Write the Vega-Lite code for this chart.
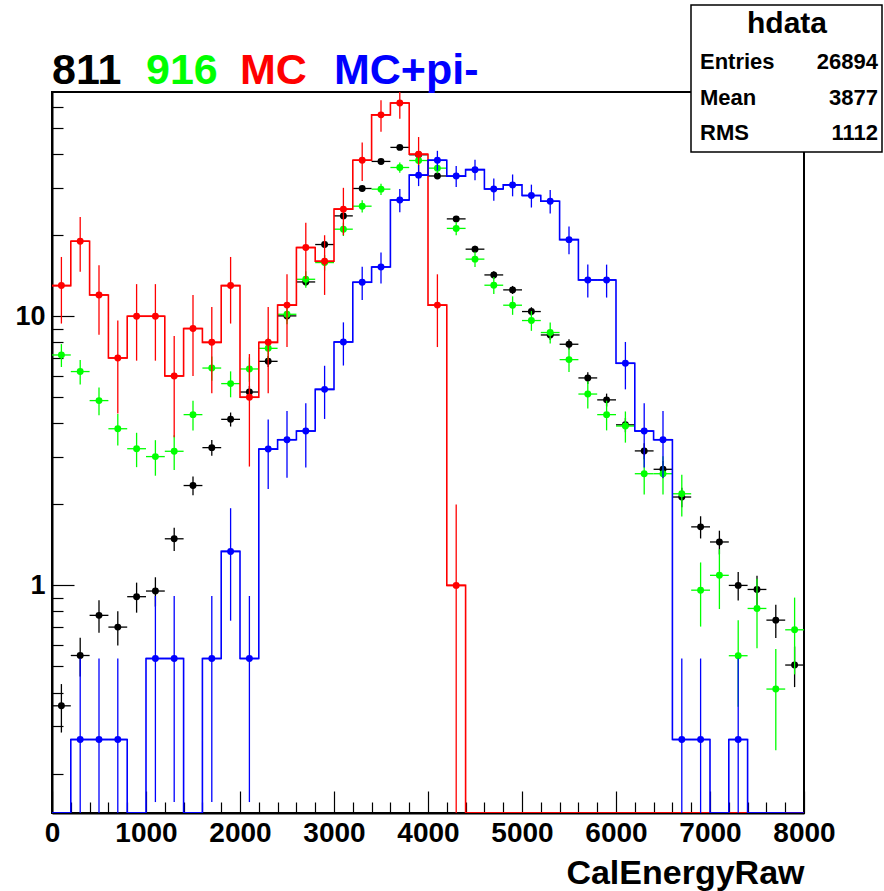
{
  "$schema": "https://vega.github.io/schema/vega-lite/v6.json",
  "width": 752,
  "height": 721,
  "autosize": {"type": "none"},
  "padding": {"left": 52, "top": 92, "right": 80, "bottom": 78},
  "background": "white",
  "config": {
    "font": "Liberation Sans",
    "view": {"stroke": "black", "strokeWidth": 2},
    "axis": {"grid": false}
  },
  "resolve": {"axis": {"x": "independent", "y": "independent"}},
  "datasets": {
    "hist": [
      {"s":"811","x0":0,"x1":200,"xc":100,"v":0.357,"lo":0.284,"hi":0.430},
      {"s":"811","x0":200,"x1":400,"xc":300,"v":0.549,"lo":0.459,"hi":0.639},
      {"s":"811","x0":400,"x1":600,"xc":500,"v":0.774,"lo":0.667,"hi":0.881},
      {"s":"811","x0":600,"x1":800,"xc":700,"v":0.700,"lo":0.598,"hi":0.802},
      {"s":"811","x0":800,"x1":1000,"xc":900,"v":0.908,"lo":0.792,"hi":1.024},
      {"s":"811","x0":1000,"x1":1200,"xc":1100,"v":0.953,"lo":0.834,"hi":1.072},
      {"s":"811","x0":1200,"x1":1400,"xc":1300,"v":1.49,"lo":1.341,"hi":1.639},
      {"s":"811","x0":1400,"x1":1600,"xc":1500,"v":2.35,"lo":2.163,"hi":2.537},
      {"s":"811","x0":1600,"x1":1800,"xc":1700,"v":3.25,"lo":3.030,"hi":3.470},
      {"s":"811","x0":1800,"x1":2000,"xc":1900,"v":4.14,"lo":3.892,"hi":4.388},
      {"s":"811","x0":2000,"x1":2200,"xc":2100,"v":5.23,"lo":4.951,"hi":5.509},
      {"s":"811","x0":2200,"x1":2400,"xc":2300,"v":6.80,"lo":6.482,"hi":7.118},
      {"s":"811","x0":2400,"x1":2600,"xc":2500,"v":10.03,"lo":9.644,"hi":10.416},
      {"s":"811","x0":2600,"x1":2800,"xc":2700,"v":13.41,"lo":12.964,"hi":13.856},
      {"s":"811","x0":2800,"x1":3000,"xc":2900,"v":18.47,"lo":17.947,"hi":18.994},
      {"s":"811","x0":3000,"x1":3200,"xc":3100,"v":23.6,"lo":23.008,"hi":24.192},
      {"s":"811","x0":3200,"x1":3400,"xc":3300,"v":29.83,"lo":29.165,"hi":30.495},
      {"s":"811","x0":3400,"x1":3600,"xc":3500,"v":37.6,"lo":36.853,"hi":38.347},
      {"s":"811","x0":3600,"x1":3800,"xc":3700,"v":42.4,"lo":41.607,"hi":43.193},
      {"s":"811","x0":3800,"x1":4000,"xc":3900,"v":39.8,"lo":39.032,"hi":40.569},
      {"s":"811","x0":4000,"x1":4200,"xc":4100,"v":33.2,"lo":32.498,"hi":33.902},
      {"s":"811","x0":4200,"x1":4400,"xc":4300,"v":23.0,"lo":22.416,"hi":23.584},
      {"s":"811","x0":4400,"x1":4600,"xc":4500,"v":17.75,"lo":17.237,"hi":18.263},
      {"s":"811","x0":4600,"x1":4800,"xc":4700,"v":14.24,"lo":13.780,"hi":14.700},
      {"s":"811","x0":4800,"x1":5000,"xc":4900,"v":12.53,"lo":12.099,"hi":12.961},
      {"s":"811","x0":5000,"x1":5200,"xc":5100,"v":10.41,"lo":10.017,"hi":10.803},
      {"s":"811","x0":5200,"x1":5400,"xc":5300,"v":8.52,"lo":8.164,"hi":8.876},
      {"s":"811","x0":5400,"x1":5600,"xc":5500,"v":7.87,"lo":7.528,"hi":8.212},
      {"s":"811","x0":5600,"x1":5800,"xc":5700,"v":5.90,"lo":5.604,"hi":6.196},
      {"s":"811","x0":5800,"x1":6000,"xc":5900,"v":4.89,"lo":4.621,"hi":5.159},
      {"s":"811","x0":6000,"x1":6200,"xc":6100,"v":3.95,"lo":3.708,"hi":4.192},
      {"s":"811","x0":6200,"x1":6400,"xc":6300,"v":3.16,"lo":2.943,"hi":3.377},
      {"s":"811","x0":6400,"x1":6600,"xc":6500,"v":2.70,"lo":2.500,"hi":2.900},
      {"s":"811","x0":6600,"x1":6800,"xc":6700,"v":2.13,"lo":1.952,"hi":2.308},
      {"s":"811","x0":6800,"x1":7000,"xc":6900,"v":1.65,"lo":1.494,"hi":1.807},
      {"s":"811","x0":7000,"x1":7200,"xc":7100,"v":1.45,"lo":1.303,"hi":1.597},
      {"s":"811","x0":7200,"x1":7400,"xc":7300,"v":1.00,"lo":0.878,"hi":1.122},
      {"s":"811","x0":7400,"x1":7600,"xc":7500,"v":0.966,"lo":0.846,"hi":1.086},
      {"s":"811","x0":7600,"x1":7800,"xc":7700,"v":0.743,"lo":0.638,"hi":0.848},
      {"s":"811","x0":7800,"x1":8000,"xc":7900,"v":0.506,"lo":0.419,"hi":0.593},

      {"s":"916","x0":0,"x1":200,"xc":100,"v":7.18,"lo":6.478,"hi":7.882},
      {"s":"916","x0":200,"x1":400,"xc":300,"v":6.23,"lo":5.576,"hi":6.884},
      {"s":"916","x0":400,"x1":600,"xc":500,"v":4.86,"lo":4.283,"hi":5.437},
      {"s":"916","x0":600,"x1":800,"xc":700,"v":3.82,"lo":3.308,"hi":4.332},
      {"s":"916","x0":800,"x1":1000,"xc":900,"v":3.22,"lo":2.750,"hi":3.690},
      {"s":"916","x0":1000,"x1":1200,"xc":1100,"v":3.01,"lo":2.556,"hi":3.464},
      {"s":"916","x0":1200,"x1":1400,"xc":1300,"v":3.15,"lo":2.685,"hi":3.615},
      {"s":"916","x0":1400,"x1":1600,"xc":1500,"v":4.31,"lo":3.766,"hi":4.854},
      {"s":"916","x0":1600,"x1":1800,"xc":1700,"v":6.42,"lo":5.756,"hi":7.084},
      {"s":"916","x0":1800,"x1":2000,"xc":1900,"v":5.62,"lo":4.999,"hi":6.241},
      {"s":"916","x0":2000,"x1":2200,"xc":2100,"v":6.37,"lo":5.709,"hi":7.031},
      {"s":"916","x0":2200,"x1":2400,"xc":2300,"v":7.60,"lo":6.878,"hi":8.322},
      {"s":"916","x0":2400,"x1":2600,"xc":2500,"v":10.17,"lo":9.335,"hi":11.005},
      {"s":"916","x0":2600,"x1":2800,"xc":2700,"v":13.72,"lo":12.750,"hi":14.690},
      {"s":"916","x0":2800,"x1":3000,"xc":2900,"v":15.83,"lo":14.788,"hi":16.872},
      {"s":"916","x0":3000,"x1":3200,"xc":3100,"v":21.06,"lo":19.858,"hi":22.262},
      {"s":"916","x0":3200,"x1":3400,"xc":3300,"v":25.64,"lo":24.314,"hi":26.966},
      {"s":"916","x0":3400,"x1":3600,"xc":3500,"v":29.66,"lo":28.234,"hi":31.086},
      {"s":"916","x0":3600,"x1":3800,"xc":3700,"v":35.7,"lo":34.135,"hi":37.265},
      {"s":"916","x0":3800,"x1":4000,"xc":3900,"v":37.9,"lo":36.288,"hi":39.512},
      {"s":"916","x0":4000,"x1":4200,"xc":4100,"v":35.5,"lo":33.939,"hi":37.061},
      {"s":"916","x0":4200,"x1":4400,"xc":4300,"v":21.2,"lo":19.994,"hi":22.406},
      {"s":"916","x0":4400,"x1":4600,"xc":4500,"v":16.3,"lo":15.243,"hi":17.357},
      {"s":"916","x0":4600,"x1":4800,"xc":4700,"v":13.04,"lo":12.094,"hi":13.986},
      {"s":"916","x0":4800,"x1":5000,"xc":4900,"v":10.99,"lo":10.122,"hi":11.858},
      {"s":"916","x0":5000,"x1":5200,"xc":5100,"v":9.64,"lo":8.827,"hi":10.453},
      {"s":"916","x0":5200,"x1":5400,"xc":5300,"v":8.70,"lo":7.928,"hi":9.473},
      {"s":"916","x0":5400,"x1":5600,"xc":5500,"v":6.90,"lo":6.212,"hi":7.588},
      {"s":"916","x0":5600,"x1":5800,"xc":5700,"v":5.14,"lo":4.546,"hi":5.734},
      {"s":"916","x0":5800,"x1":6000,"xc":5900,"v":4.31,"lo":3.766,"hi":4.854},
      {"s":"916","x0":6000,"x1":6200,"xc":6100,"v":3.91,"lo":3.392,"hi":4.428},
      {"s":"916","x0":6200,"x1":6400,"xc":6300,"v":2.60,"lo":2.178,"hi":3.022},
      {"s":"916","x0":6400,"x1":6600,"xc":6500,"v":2.60,"lo":2.178,"hi":3.022},
      {"s":"916","x0":6600,"x1":6800,"xc":6700,"v":2.19,"lo":1.802,"hi":2.578},
      {"s":"916","x0":6800,"x1":7000,"xc":6900,"v":0.96,"lo":0.703,"hi":1.217},
      {"s":"916","x0":7000,"x1":7200,"xc":7100,"v":1.09,"lo":0.817,"hi":1.363},
      {"s":"916","x0":7200,"x1":7400,"xc":7300,"v":0.548,"lo":0.354,"hi":0.742},
      {"s":"916","x0":7400,"x1":7600,"xc":7500,"v":0.821,"lo":0.584,"hi":1.058},
      {"s":"916","x0":7600,"x1":7800,"xc":7700,"v":0.412,"lo":0.244,"hi":0.580},
      {"s":"916","x0":7800,"x1":8000,"xc":7900,"v":0.684,"lo":0.467,"hi":0.901},

      {"s":"MC","x0":0,"x1":200,"xc":100,"v":13,"lo":9.394,"hi":16.606},
      {"s":"MC","x0":200,"x1":400,"xc":300,"v":19,"lo":14.641,"hi":23.359},
      {"s":"MC","x0":400,"x1":600,"xc":500,"v":12,"lo":8.536,"hi":15.464},
      {"s":"MC","x0":600,"x1":800,"xc":700,"v":7,"lo":4.354,"hi":9.646},
      {"s":"MC","x0":800,"x1":1000,"xc":900,"v":10,"lo":6.838,"hi":13.162},
      {"s":"MC","x0":1000,"x1":1200,"xc":1100,"v":10,"lo":6.838,"hi":13.162},
      {"s":"MC","x0":1200,"x1":1400,"xc":1300,"v":6,"lo":3.551,"hi":8.449},
      {"s":"MC","x0":1400,"x1":1600,"xc":1500,"v":9,"lo":6,"hi":12},
      {"s":"MC","x0":1600,"x1":1800,"xc":1700,"v":8,"lo":5.172,"hi":10.828},
      {"s":"MC","x0":1800,"x1":2000,"xc":1900,"v":13,"lo":9.394,"hi":16.606},
      {"s":"MC","x0":2000,"x1":2200,"xc":2100,"v":5,"lo":2.764,"hi":7.236},
      {"s":"MC","x0":2200,"x1":2400,"xc":2300,"v":8,"lo":5.172,"hi":10.828},
      {"s":"MC","x0":2400,"x1":2600,"xc":2500,"v":11,"lo":7.683,"hi":14.317},
      {"s":"MC","x0":2600,"x1":2800,"xc":2700,"v":18,"lo":13.757,"hi":22.243},
      {"s":"MC","x0":2800,"x1":3000,"xc":2900,"v":16,"lo":12,"hi":20},
      {"s":"MC","x0":3000,"x1":3200,"xc":3100,"v":25,"lo":20,"hi":30},
      {"s":"MC","x0":3200,"x1":3400,"xc":3300,"v":38,"lo":31.836,"hi":44.164},
      {"s":"MC","x0":3400,"x1":3600,"xc":3500,"v":56,"lo":48.517,"hi":63.483},
      {"s":"MC","x0":3600,"x1":3800,"xc":3700,"v":62,"lo":54.126,"hi":69.874},
      {"s":"MC","x0":3800,"x1":4000,"xc":3900,"v":40,"lo":33.675,"hi":46.325},
      {"s":"MC","x0":4000,"x1":4200,"xc":4100,"v":11,"lo":7.683,"hi":14.317},
      {"s":"MC","x0":4200,"x1":4400,"xc":4300,"v":1,"lo":0,"hi":2},
      {"s":"MC","x0":4400,"x1":4600,"xc":4500,"v":0,"lo":0,"hi":0},
      {"s":"MC","x0":4600,"x1":4800,"xc":4700,"v":0,"lo":0,"hi":0},
      {"s":"MC","x0":4800,"x1":5000,"xc":4900,"v":0,"lo":0,"hi":0},
      {"s":"MC","x0":5000,"x1":5200,"xc":5100,"v":0,"lo":0,"hi":0},
      {"s":"MC","x0":5200,"x1":5400,"xc":5300,"v":0,"lo":0,"hi":0},
      {"s":"MC","x0":5400,"x1":5600,"xc":5500,"v":0,"lo":0,"hi":0},
      {"s":"MC","x0":5600,"x1":5800,"xc":5700,"v":0,"lo":0,"hi":0},
      {"s":"MC","x0":5800,"x1":6000,"xc":5900,"v":0,"lo":0,"hi":0},
      {"s":"MC","x0":6000,"x1":6200,"xc":6100,"v":0,"lo":0,"hi":0},
      {"s":"MC","x0":6200,"x1":6400,"xc":6300,"v":0,"lo":0,"hi":0},
      {"s":"MC","x0":6400,"x1":6600,"xc":6500,"v":0,"lo":0,"hi":0},
      {"s":"MC","x0":6600,"x1":6800,"xc":6700,"v":0,"lo":0,"hi":0},
      {"s":"MC","x0":6800,"x1":7000,"xc":6900,"v":0,"lo":0,"hi":0},
      {"s":"MC","x0":7000,"x1":7200,"xc":7100,"v":0,"lo":0,"hi":0},
      {"s":"MC","x0":7200,"x1":7400,"xc":7300,"v":0,"lo":0,"hi":0},
      {"s":"MC","x0":7400,"x1":7600,"xc":7500,"v":0,"lo":0,"hi":0},
      {"s":"MC","x0":7600,"x1":7800,"xc":7700,"v":0,"lo":0,"hi":0},
      {"s":"MC","x0":7800,"x1":8000,"xc":7900,"v":0,"lo":0,"hi":0},

      {"s":"MCpi","x0":0,"x1":200,"xc":100,"v":0,"lo":0,"hi":0},
      {"s":"MCpi","x0":200,"x1":400,"xc":300,"v":0.2675,"lo":0,"hi":0.535},
      {"s":"MCpi","x0":400,"x1":600,"xc":500,"v":0.2675,"lo":0,"hi":0.535},
      {"s":"MCpi","x0":600,"x1":800,"xc":700,"v":0.2675,"lo":0,"hi":0.535},
      {"s":"MCpi","x0":800,"x1":1000,"xc":900,"v":0,"lo":0,"hi":0},
      {"s":"MCpi","x0":1000,"x1":1200,"xc":1100,"v":0.535,"lo":0.1567,"hi":0.9133},
      {"s":"MCpi","x0":1200,"x1":1400,"xc":1300,"v":0.535,"lo":0.1567,"hi":0.9133},
      {"s":"MCpi","x0":1400,"x1":1600,"xc":1500,"v":0,"lo":0,"hi":0},
      {"s":"MCpi","x0":1600,"x1":1800,"xc":1700,"v":0.535,"lo":0.1567,"hi":0.9133},
      {"s":"MCpi","x0":1800,"x1":2000,"xc":1900,"v":1.3375,"lo":0.7394,"hi":1.9356},
      {"s":"MCpi","x0":2000,"x1":2200,"xc":2100,"v":0.535,"lo":0.1567,"hi":0.9133},
      {"s":"MCpi","x0":2200,"x1":2400,"xc":2300,"v":3.21,"lo":2.2834,"hi":4.1366},
      {"s":"MCpi","x0":2400,"x1":2600,"xc":2500,"v":3.4775,"lo":2.513,"hi":4.442},
      {"s":"MCpi","x0":2600,"x1":2800,"xc":2700,"v":3.745,"lo":2.7441,"hi":4.7459},
      {"s":"MCpi","x0":2800,"x1":3000,"xc":2900,"v":5.35,"lo":4.1537,"hi":6.5463},
      {"s":"MCpi","x0":3000,"x1":3200,"xc":3100,"v":8.025,"lo":6.5598,"hi":9.4902},
      {"s":"MCpi","x0":3200,"x1":3400,"xc":3300,"v":13.375,"lo":11.4835,"hi":15.2665},
      {"s":"MCpi","x0":3400,"x1":3600,"xc":3500,"v":15.2475,"lo":13.2279,"hi":17.2671},
      {"s":"MCpi","x0":3600,"x1":3800,"xc":3700,"v":27.0175,"lo":24.3292,"hi":29.7058},
      {"s":"MCpi","x0":3800,"x1":4000,"xc":3900,"v":33.4375,"lo":30.4468,"hi":36.4282},
      {"s":"MCpi","x0":4000,"x1":4200,"xc":4100,"v":37.985,"lo":34.7974,"hi":41.1726},
      {"s":"MCpi","x0":4200,"x1":4400,"xc":4300,"v":33.17,"lo":30.1913,"hi":36.1487},
      {"s":"MCpi","x0":4400,"x1":4600,"xc":4500,"v":35.0425,"lo":31.9808,"hi":38.1042},
      {"s":"MCpi","x0":4600,"x1":4800,"xc":4700,"v":29.6925,"lo":26.8742,"hi":32.5108},
      {"s":"MCpi","x0":4800,"x1":5000,"xc":4900,"v":30.7625,"lo":27.8939,"hi":33.6311},
      {"s":"MCpi","x0":5000,"x1":5200,"xc":5100,"v":28.0875,"lo":25.3464,"hi":30.8286},
      {"s":"MCpi","x0":5200,"x1":5400,"xc":5300,"v":26.75,"lo":24.075,"hi":29.425},
      {"s":"MCpi","x0":5400,"x1":5600,"xc":5500,"v":19.26,"lo":16.9902,"hi":21.5298},
      {"s":"MCpi","x0":5600,"x1":5800,"xc":5700,"v":13.6425,"lo":11.7322,"hi":15.5528},
      {"s":"MCpi","x0":5800,"x1":6000,"xc":5900,"v":13.6425,"lo":11.7322,"hi":15.5528},
      {"s":"MCpi","x0":6000,"x1":6200,"xc":6100,"v":6.6875,"lo":5.35,"hi":8.025},
      {"s":"MCpi","x0":6200,"x1":6400,"xc":6300,"v":3.745,"lo":2.7441,"hi":4.7459},
      {"s":"MCpi","x0":6400,"x1":6600,"xc":6500,"v":3.4775,"lo":2.513,"hi":4.442},
      {"s":"MCpi","x0":6600,"x1":6800,"xc":6700,"v":0.2675,"lo":0,"hi":0.535},
      {"s":"MCpi","x0":6800,"x1":7000,"xc":6900,"v":0.2675,"lo":0,"hi":0.535},
      {"s":"MCpi","x0":7000,"x1":7200,"xc":7100,"v":0,"lo":0,"hi":0},
      {"s":"MCpi","x0":7200,"x1":7400,"xc":7300,"v":0.2675,"lo":0,"hi":0.535},
      {"s":"MCpi","x0":7400,"x1":7600,"xc":7500,"v":0,"lo":0,"hi":0},
      {"s":"MCpi","x0":7600,"x1":7800,"xc":7700,"v":0,"lo":0,"hi":0},
      {"s":"MCpi","x0":7800,"x1":8000,"xc":7900,"v":0,"lo":0,"hi":0}
    ]
  },
  "layer": [
    {
      "data": {"name": "hist"},
      "transform": [{"filter": "datum.s === '811'"}],
      "mark": {"type": "rule", "color": "black", "strokeWidth": 1.3, "clip": true},
      "encoding": {
        "x": {
          "field": "xc", "type": "quantitative",
          "scale": {"domain": [0, 8000], "nice": false, "zero": false},
          "axis": {
            "orient": "bottom",
            "title": "CalEnergyRaw",
            "values": [0,1000,2000,3000,4000,5000,6000,7000,8000],
            "format": "d",
            "tickSize": -22,
            "tickColor": "black",
            "tickWidth": 1.2,
            "domainColor": "black",
            "domainWidth": 2,
            "labelFontSize": 28,
            "labelFontWeight": "bold",
            "labelColor": "black",
            "labelPadding": 28,
            "labelFlush": false,
            "labelOverlap": false,
            "titleFontSize": 34,
            "titleFontWeight": "bold",
            "titleColor": "black",
            "titleAnchor": "end",
            "titleAlign": "right",
            "titleBaseline": "alphabetic",
            "titleX": 752,
            "titleY": 70
          }
        },
        "y": {
          "field": "lo", "type": "quantitative",
          "scale": {"type": "log", "domain": [0.1427, 68.1], "nice": false, "clamp": true},
          "axis": {
            "orient": "left",
            "title": null,
            "values": [1, 10],
            "format": "d",
            "tickSize": -22,
            "tickColor": "black",
            "tickWidth": 1.2,
            "domainColor": "black",
            "domainWidth": 2,
            "labelFontSize": 27,
            "labelFontWeight": "bold",
            "labelColor": "black",
            "labelPadding": 29,
            "labelFlush": false,
            "labelOverlap": false
          }
        },
        "y2": {"field": "hi"}
      }
    },
    {
      "data": {"name": "hist"},
      "transform": [{"filter": "datum.s === '811'"}],
      "mark": {"type": "rule", "color": "black", "strokeWidth": 1.3, "clip": true},
      "encoding": {
        "x": {
          "field": "x0", "type": "quantitative",
          "axis": {
            "orient": "bottom",
            "title": null,
            "values": [200,400,600,800,1200,1400,1600,1800,2200,2400,2600,2800,3200,3400,3600,3800,4200,4400,4600,4800,5200,5400,5600,5800,6200,6400,6600,6800,7200,7400,7600,7800],
            "labels": false,
            "domain": false,
            "tickSize": -11,
            "tickColor": "black",
            "tickWidth": 1.2
          }
        },
        "x2": {"field": "x1"},
        "y": {
          "field": "v", "type": "quantitative",
          "axis": {
            "orient": "left",
            "title": null,
            "values": [0.2,0.3,0.4,0.5,0.6,0.7,0.8,0.9,2,3,4,5,6,7,8,9,20,30,40,50,60],
            "labels": false,
            "domain": false,
            "tickSize": -11,
            "tickColor": "black",
            "tickWidth": 1.2
          }
        }
      }
    },
    {
      "data": {"name": "hist"},
      "transform": [{"filter": "datum.s === '811'"}],
      "mark": {"type": "point", "shape": "circle", "filled": true, "opacity": 1, "size": 48, "color": "black"},
      "encoding": {
        "x": {"field": "xc", "type": "quantitative", "axis": null},
        "y": {"field": "v", "type": "quantitative", "axis": null}
      }
    },
    {
      "data": {"name": "hist"},
      "transform": [{"filter": "datum.s === '916'"}],
      "mark": {"type": "rule", "color": "#00ff00", "strokeWidth": 1.3, "clip": true},
      "encoding": {
        "x": {"field": "xc", "type": "quantitative", "axis": null},
        "y": {"field": "lo", "type": "quantitative", "axis": null},
        "y2": {"field": "hi"}
      }
    },
    {
      "data": {"name": "hist"},
      "transform": [{"filter": "datum.s === '916'"}],
      "mark": {"type": "rule", "color": "#00ff00", "strokeWidth": 1.3, "clip": true},
      "encoding": {
        "x": {"field": "x0", "type": "quantitative", "axis": null},
        "x2": {"field": "x1"},
        "y": {"field": "v", "type": "quantitative", "axis": null}
      }
    },
    {
      "data": {"name": "hist"},
      "transform": [{"filter": "datum.s === '916'"}],
      "mark": {"type": "point", "shape": "circle", "filled": true, "opacity": 1, "size": 48, "color": "#00ff00"},
      "encoding": {
        "x": {"field": "xc", "type": "quantitative", "axis": null},
        "y": {"field": "v", "type": "quantitative", "axis": null}
      }
    },
    {
      "data": {"name": "hist"},
      "transform": [{"filter": "datum.s === 'MC'"}],
      "mark": {"type": "line", "interpolate": "step-after", "color": "#ff0000", "strokeWidth": 1.6, "clip": true},
      "encoding": {
        "x": {"field": "x0", "type": "quantitative", "axis": null},
        "y": {"field": "v", "type": "quantitative", "axis": null}
      }
    },
    {
      "data": {"name": "hist"},
      "transform": [{"filter": "datum.s === 'MC'"}],
      "mark": {"type": "rule", "color": "#ff0000", "strokeWidth": 1.6, "clip": true},
      "encoding": {
        "x": {"field": "x0", "type": "quantitative", "axis": null},
        "x2": {"field": "x1"},
        "y": {"field": "v", "type": "quantitative", "axis": null}
      }
    },
    {
      "data": {"name": "hist"},
      "transform": [{"filter": "datum.s === 'MC' && datum.v > 0"}],
      "mark": {"type": "rule", "color": "#ff0000", "strokeWidth": 1.3, "clip": true},
      "encoding": {
        "x": {"field": "xc", "type": "quantitative", "axis": null},
        "y": {"field": "lo", "type": "quantitative", "axis": null},
        "y2": {"field": "hi"}
      }
    },
    {
      "data": {"name": "hist"},
      "transform": [{"filter": "datum.s === 'MC' && datum.v > 0"}],
      "mark": {"type": "point", "shape": "circle", "filled": true, "opacity": 1, "size": 48, "color": "#ff0000"},
      "encoding": {
        "x": {"field": "xc", "type": "quantitative", "axis": null},
        "y": {"field": "v", "type": "quantitative", "axis": null}
      }
    },
    {
      "data": {"name": "hist"},
      "transform": [{"filter": "datum.s === 'MCpi'"}],
      "mark": {"type": "line", "interpolate": "step-after", "color": "#0000ff", "strokeWidth": 1.6, "clip": true},
      "encoding": {
        "x": {"field": "x0", "type": "quantitative", "axis": null},
        "y": {"field": "v", "type": "quantitative", "axis": null}
      }
    },
    {
      "data": {"name": "hist"},
      "transform": [{"filter": "datum.s === 'MCpi'"}],
      "mark": {"type": "rule", "color": "#0000ff", "strokeWidth": 1.6, "clip": true},
      "encoding": {
        "x": {"field": "x0", "type": "quantitative", "axis": null},
        "x2": {"field": "x1"},
        "y": {"field": "v", "type": "quantitative", "axis": null}
      }
    },
    {
      "data": {"name": "hist"},
      "transform": [{"filter": "datum.s === 'MCpi' && datum.v > 0"}],
      "mark": {"type": "rule", "color": "#0000ff", "strokeWidth": 1.3, "clip": true},
      "encoding": {
        "x": {"field": "xc", "type": "quantitative", "axis": null},
        "y": {"field": "lo", "type": "quantitative", "axis": null},
        "y2": {"field": "hi"}
      }
    },
    {
      "data": {"name": "hist"},
      "transform": [{"filter": "datum.s === 'MCpi' && datum.v > 0"}],
      "mark": {"type": "point", "shape": "circle", "filled": true, "opacity": 1, "size": 48, "color": "#0000ff"},
      "encoding": {
        "x": {"field": "xc", "type": "quantitative", "axis": null},
        "y": {"field": "v", "type": "quantitative", "axis": null}
      }
    },
    {
      "data": {"values": [{}]},
      "mark": {"type": "text", "x": 0, "y": -8, "text": "811", "color": "black", "align": "left", "baseline": "alphabetic", "fontSize": 43, "fontWeight": "bold"}
    },
    {
      "data": {"values": [{}]},
      "mark": {"type": "text", "x": 94, "y": -8, "text": "916", "color": "#00ff00", "align": "left", "baseline": "alphabetic", "fontSize": 43, "fontWeight": "bold"}
    },
    {
      "data": {"values": [{}]},
      "mark": {"type": "text", "x": 188, "y": -8, "text": "MC", "color": "#ff0000", "align": "left", "baseline": "alphabetic", "fontSize": 43, "fontWeight": "bold"}
    },
    {
      "data": {"values": [{}]},
      "mark": {"type": "text", "x": 282, "y": -8, "text": "MC+pi-", "color": "#0000ff", "align": "left", "baseline": "alphabetic", "fontSize": 43, "fontWeight": "bold"}
    },
    {
      "data": {"values": [{}]},
      "mark": {"type": "rect", "x": 639, "x2": 830, "y": -87, "y2": 60, "fill": "white", "stroke": "black", "strokeWidth": 1.5}
    },
    {
      "data": {"values": [{}]},
      "mark": {"type": "rule", "x": 639, "x2": 830, "y": -49, "y2": -49, "color": "black", "strokeWidth": 1.5},
      "encoding": {}
    },
    {
      "data": {"values": [{}]},
      "mark": {"type": "text", "x": 735, "y": -68, "text": "hdata", "align": "center", "baseline": "middle", "fontSize": 30, "fontWeight": "bold", "color": "black"}
    },
    {
      "data": {"values": [{}]},
      "mark": {"type": "text", "x": 648, "y": -30, "text": "Entries", "align": "left", "baseline": "middle", "fontSize": 22, "fontWeight": "bold", "color": "black"}
    },
    {
      "data": {"values": [{}]},
      "mark": {"type": "text", "x": 826, "y": -30, "text": "26894", "align": "right", "baseline": "middle", "fontSize": 22, "fontWeight": "bold", "color": "black"}
    },
    {
      "data": {"values": [{}]},
      "mark": {"type": "text", "x": 648, "y": 6, "text": "Mean", "align": "left", "baseline": "middle", "fontSize": 22, "fontWeight": "bold", "color": "black"}
    },
    {
      "data": {"values": [{}]},
      "mark": {"type": "text", "x": 826, "y": 6, "text": "3877", "align": "right", "baseline": "middle", "fontSize": 22, "fontWeight": "bold", "color": "black"}
    },
    {
      "data": {"values": [{}]},
      "mark": {"type": "text", "x": 648, "y": 41, "text": "RMS", "align": "left", "baseline": "middle", "fontSize": 22, "fontWeight": "bold", "color": "black"}
    },
    {
      "data": {"values": [{}]},
      "mark": {"type": "text", "x": 826, "y": 41, "text": "1112", "align": "right", "baseline": "middle", "fontSize": 22, "fontWeight": "bold", "color": "black"}
    }
  ]
}
